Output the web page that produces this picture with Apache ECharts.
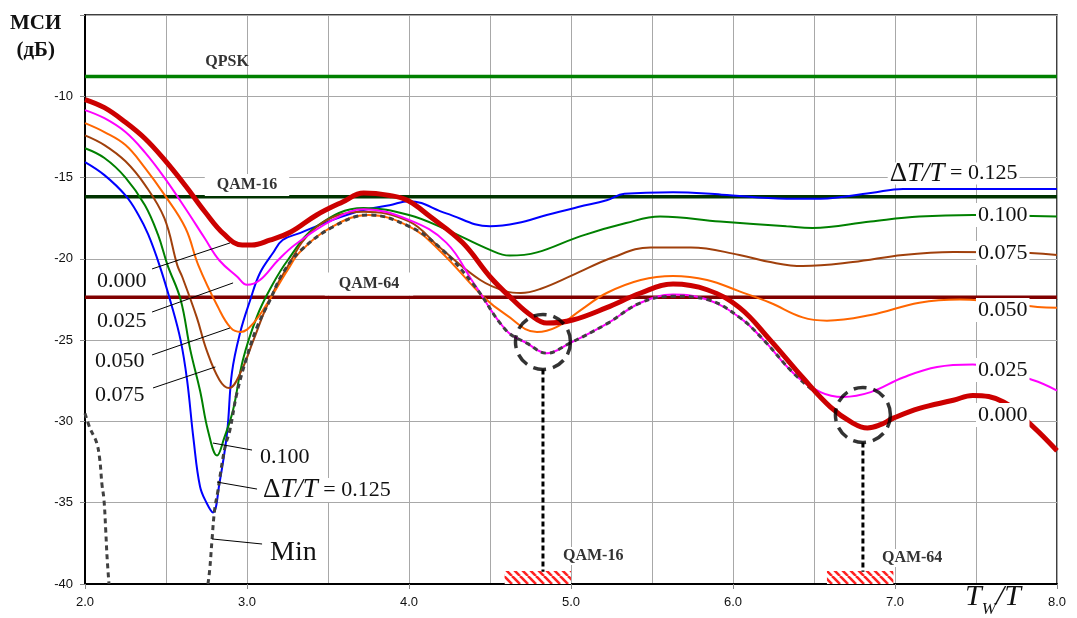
<!DOCTYPE html>
<html>
<head>
<meta charset="utf-8">
<script src="https://cdn.jsdelivr.net/npm/echarts@6/dist/echarts.min.js"></script>
<style>
  html, body { margin: 0; padding: 0; background: #fff; }
  #chart { width: 1077px; height: 618px; }
</style>
</head>
<body>
<div id="chart"></div>
<script>
// МСИ vs Tw/T for several ΔT/T values
var X_MIN = 2, X_MAX = 8, Y_MIN = -40, Y_MAX = -5;

var DT_0125 = [[2.0,-14.05],[2.12,-14.85],[2.25,-16.1],[2.33,-17.3],[2.39,-18.5],[2.46,-20.4],[2.53,-22.7],
  [2.59,-25.0],[2.63,-27.45],[2.67,-31.1],[2.71,-34.0],[2.75,-35.0],[2.79,-35.6],[2.83,-33.8],[2.877,-30.7],
  [2.907,-27.0],[2.957,-24.56],[3.02,-22.53],[3.08,-20.87],[3.16,-19.64],[3.22,-18.84],[3.33,-18.4],
  [3.53,-17.6],[3.72,-17.0],[3.88,-16.7],[4.0,-16.45],[4.23,-17.2],[4.5,-18.0],[4.67,-17.8],[4.85,-17.3],
  [5.05,-16.8],[5.22,-16.4],[5.33,-16.0],[5.63,-15.9],[5.93,-16.05],[6.33,-16.3],[6.54,-16.3],
  [6.85,-15.95],[7.05,-15.7],[7.5,-15.7],[8.0,-15.7]];

var DT_0100 = [[2.0,-13.2],[2.12,-13.8],[2.25,-15.0],[2.37,-16.7],[2.45,-18.5],[2.51,-20.4],[2.59,-22.5],
  [2.65,-25.6],[2.71,-28.1],[2.76,-30.6],[2.815,-32.1],[2.86,-31.0],[2.914,-29.3],[2.975,-26.2],
  [3.06,-23.58],[3.14,-21.9],[3.25,-20.1],[3.43,-18.0],[3.72,-16.87],[4.0,-17.3],[4.23,-18.2],
  [4.5,-19.45],[4.62,-19.8],[4.79,-19.6],[5.06,-18.6],[5.34,-17.8],[5.55,-17.4],[5.92,-17.7],
  [6.33,-18.0],[6.49,-18.1],[6.85,-17.7],[7.15,-17.4],[7.48,-17.3],[8.0,-17.4]];

var DT_0075 = [[2.0,-12.4],[2.12,-13.0],[2.25,-14.0],[2.37,-15.45],[2.49,-17.5],[2.57,-20.4],[2.6,-21.1],
  [2.69,-23.6],[2.75,-25.6],[2.83,-27.45],[2.89,-27.95],[2.96,-27.0],[3.04,-25.0],[3.12,-22.96],
  [3.22,-21.0],[3.43,-18.04],[3.72,-17.1],[4.0,-17.7],[4.19,-19.3],[4.44,-21.3],[4.6,-22.0],
  [4.69,-22.1],[4.81,-21.85],[5.01,-21.0],[5.26,-19.9],[5.49,-19.3],[5.74,-19.3],[6.04,-19.76],
  [6.23,-20.2],[6.43,-20.44],[6.74,-20.2],[7.05,-19.76],[7.36,-19.58],[7.7,-19.6],[8.0,-19.76]];

var DT_0050 = [[2.0,-11.65],[2.12,-12.2],[2.25,-13.0],[2.37,-14.4],[2.49,-16.05],[2.62,-18.1],[2.7,-20.4],
  [2.82,-22.95],[2.9,-24.25],[2.96,-24.5],[3.04,-23.95],[3.14,-22.5],[3.25,-20.7],[3.33,-19.55],
  [3.53,-18.0],[3.75,-17.3],[4.0,-18.0],[4.19,-19.5],[4.46,-22.35],[4.6,-23.45],[4.79,-24.5],
  [4.91,-24.2],[5.06,-23.15],[5.22,-22.1],[5.43,-21.3],[5.63,-21.05],[5.84,-21.3],[6.04,-22.0],
  [6.23,-22.7],[6.43,-23.6],[6.58,-23.8],[6.85,-23.45],[7.15,-22.7],[7.4,-22.5],[7.88,-22.96],[8.0,-23.0]];

var DT_0025 = [[2.0,-10.85],[2.12,-11.35],[2.25,-12.2],[2.37,-13.45],[2.49,-15.0],[2.62,-16.9],[2.74,-18.75],
  [2.83,-20.1],[2.94,-21.1],[3.0,-21.6],[3.08,-21.3],[3.19,-20.1],[3.3,-19.1],[3.53,-17.6],[3.72,-16.95],
  [4.0,-17.6],[4.23,-19.0],[4.4,-21.5],[4.6,-24.4],[4.73,-25.2],[4.85,-25.8],[4.99,-25.2],[5.22,-24.0],
  [5.43,-22.7],[5.63,-22.2],[5.84,-22.5],[6.04,-23.6],[6.19,-25.0],[6.37,-27.0],[6.54,-28.2],
  [6.68,-28.5],[6.85,-28.2],[7.05,-27.3],[7.26,-26.65],[7.48,-26.5],[7.85,-27.45],[8.0,-28.1]];

var DT_0000 = [[2.0,-10.2],[2.12,-10.7],[2.25,-11.6],[2.37,-12.6],[2.49,-13.9],[2.62,-15.5],[2.74,-17.1],
  [2.86,-18.5],[2.97,-19.15],[3.03,-19.15],[3.14,-18.85],[3.27,-18.35],[3.43,-17.3],[3.59,-16.5],
  [3.72,-15.95],[3.88,-16.1],[3.99,-16.4],[4.13,-17.4],[4.33,-19.0],[4.5,-21.1],[4.64,-22.5],
  [4.75,-23.45],[4.85,-23.95],[5.01,-23.76],[5.22,-23.0],[5.43,-22.1],[5.63,-21.55],[5.84,-21.9],
  [6.04,-23.0],[6.23,-25.0],[6.43,-27.3],[6.6,-29.1],[6.74,-30.1],[6.83,-30.4],[6.91,-30.2],
  [6.99,-29.8],[7.15,-29.2],[7.36,-28.7],[7.48,-28.4],[7.67,-28.8],[7.85,-30.3],[8.0,-31.8]];

// envelope of the minimum (goes below -40 between the two pieces)
var MIN_CURVE = [[2.0,-29.5],[2.03,-30.4],[2.07,-31.25],[2.09,-32.25],[2.105,-33.9],[2.117,-34.8],
  [2.128,-36.7],[2.136,-38.3],[2.148,-40], null,
  [2.759,-40],[2.77,-39.1],[2.784,-37.3],[2.8,-35.45],[2.82,-34.3],[2.833,-33.4],[2.864,-31.6],
  [2.895,-30.5],[2.938,-28.25],[3.0,-26.0],[3.062,-24.2],[3.142,-22.53],[3.222,-20.87],[3.33,-19.5],
  [3.53,-18.04],[3.75,-17.3],[4.0,-18.0],[4.19,-19.3],[4.4,-21.6],[4.6,-24.4],[4.73,-25.2],
  [4.85,-25.8],[4.99,-25.2],[5.22,-24.0],[5.43,-22.7],[5.63,-22.3],[5.84,-22.5],[6.04,-23.6],
  [6.19,-25.0],[6.37,-27.0],[6.54,-28.5],[6.6,-29.1],[6.74,-30.1],[6.83,-30.4],[6.91,-30.2],
  [6.99,-29.8],[7.15,-29.2],[7.36,-28.7],[7.48,-28.4],[7.67,-28.8],[7.85,-30.3],[8.0,-31.8]];

// modulation thresholds
var THRESH_NAMES = ['QPSK', 'QAM-16', 'QAM-64'];
var THRESH_VALUES = [-8.79, -16.18, -22.36];

// marked optimum points and their operating ranges
var OPT_POINTS = [[4.827, -25.11], [6.802, -29.6]];
var OPT_RANGES = [[4.59, 5.0], [6.58, 6.99]];
var OPT_NAMES = ['QAM-16', 'QAM-64'];

var CURVE_COLORS = ['#0000ff', '#008000', '#a0400c', '#ff6600', '#ff00ff', '#cc0000'];
var THRESH_COLORS = ['#008000', '#003300', '#800000'];

function hatch() {
  var c = document.createElement('canvas');
  c.width = 8; c.height = 8;
  var ctx = c.getContext('2d');
  ctx.fillStyle = '#fff';
  ctx.fillRect(0, 0, 8, 8);
  ctx.strokeStyle = '#ff2020';
  ctx.lineWidth = 2.6;
  [-8, 0, 8].forEach(function (k) {
    ctx.beginPath(); ctx.moveTo(k, 0); ctx.lineTo(k + 8, 8); ctx.stroke();
  });
  return c;
}

function curve(data, color, width, extra) {
  var s = {
    type: 'line', data: data, symbol: 'none', smooth: 0.4,
    connectNulls: false, silent: true, animation: false,
    lineStyle: { color: color, width: width }
  };
  if (extra) for (var k in extra) s[k] = extra[k];
  return s;
}

var series = [];
THRESH_VALUES.forEach(function (v, i) {
  series.push(curve([[X_MIN, v], [X_MAX, v]], THRESH_COLORS[i], 3.5, { smooth: false }));
});
[DT_0125, DT_0100, DT_0075, DT_0050, DT_0025].forEach(function (d, i) {
  series.push(curve(d, CURVE_COLORS[i], 2));
});
series.push(curve(MIN_CURVE, '#404040', 3, {
  lineStyle: { color: '#404040', width: 3, type: [5, 4] },
  markArea: {
    silent: true,
    itemStyle: { color: { image: hatch(), repeat: 'repeat' } },
    data: OPT_RANGES.map(function (r) {
      return [{ coord: [r[0], -40] }, { coord: [r[1], -39.2] }];
    })
  }
}));
series.push(curve(DT_0000, CURVE_COLORS[5], 5));

// dashed drop lines from the marked optimum to the hatched range
OPT_POINTS.forEach(function (p) {
  series.push(curve([[p[0], p[1] - 1.7], [p[0], -39.25]], '#000', 3, {
    smooth: false, lineStyle: { color: '#000', width: 3, type: [5, 3] }
  }));
});
series.push({
  type: 'scatter', data: OPT_POINTS, symbol: 'circle', symbolSize: 55, silent: true, animation: false,
  itemStyle: { color: 'rgba(0,0,0,0)', borderColor: '#000', borderWidth: 3.5, borderType: [13, 7] },
  z: 5
});

// leader lines from curve labels to curves
var LEADERS = [
  [2.414, -20.62, 2.895, -19.02],
  [2.414, -23.27, 2.914, -21.48],
  [2.414, -25.91, 2.895, -24.25],
  [2.420, -27.94, 2.805, -26.65],
  [3.031, -31.76, 2.790, -31.33],
  [3.062, -34.16, 2.815, -33.73],
  [3.093, -37.54, 2.784, -37.23]
];
LEADERS.forEach(function (l) {
  series.push(curve([[l[0], l[1]], [l[2], l[3]]], '#000', 1, { smooth: false }));
});

var option = {
  backgroundColor: '#fff',
  animation: false,
  grid: { left: 85, right: 20, top: 15, bottom: 34, show: true, borderColor: '#000', borderWidth: 1.5 },
  xAxis: {
    type: 'value', min: X_MIN, max: X_MAX, interval: 1,
    axisLine: { lineStyle: { color: '#000', width: 2 } },
    axisTick: { show: true, length: 5, inside: false, lineStyle: { color: '#888' } },
    axisLabel: {
      margin: 12, color: '#111', fontFamily: 'Liberation Sans', fontSize: 13,
      formatter: function (v) { return v.toFixed(1); }
    },
    splitLine: { show: true, lineStyle: { color: '#a8a8a8', width: 1 } },
    minorTick: { show: false, splitNumber: 2 },
    minorSplitLine: { show: true, lineStyle: { color: '#a8a8a8', width: 1 } }
  },
  yAxis: {
    type: 'value', min: Y_MIN, max: Y_MAX, interval: 5,
    axisLine: { show: true, lineStyle: { color: '#000', width: 2 } },
    axisTick: { show: true, length: 5, lineStyle: { color: '#888' } },
    axisLabel: {
      margin: 12, color: '#111', fontFamily: 'Liberation Sans', fontSize: 13,
      formatter: function (v) { return v === Y_MAX ? '' : String(v); }
    },
    splitLine: { show: true, lineStyle: { color: '#a8a8a8', width: 1 } }
  },
  series: series
};

var chart = echarts.init(document.getElementById('chart'), null, { renderer: 'canvas' });
chart.setOption(option);

function at(x, y) { return chart.convertToPixel({ gridIndex: 0 }, [x, y]); }

var SERIF = 'Liberation Serif';
function label(x, y, text, font, opts) {
  var p = at(x, y);
  opts = opts || {};
  return {
    type: 'text', x: p[0], y: p[1], z: 100, silent: true,
    style: {
      text: text, font: font, fill: opts.fill || '#111',
      align: opts.align || 'left', verticalAlign: 'middle',
      textAlign: opts.align || 'left', textVerticalAlign: 'middle',
      backgroundColor: opts.bg === false ? null : '#fff',
      padding: opts.padding || [1, 2],
      rich: opts.rich
    }
  };
}

var dtRich = {
  d: { fontFamily: SERIF, fontSize: 27, fill: '#111', lineHeight: 22 },
  i: { fontFamily: SERIF, fontSize: 27, fontStyle: 'italic', fill: '#111', lineHeight: 22 },
  n: { fontFamily: SERIF, fontSize: 22, fill: '#111', lineHeight: 22 }
};
var dtText = '{d|Δ}{i|T/T}{n| = 0.125}';
var NUM = '22px ' + SERIF;
var BOLD = 'bold 16px ' + SERIF;

// curve labels (left and right), threshold and range labels
var LEFT_LABELS = [['0.000', 2.062, -21.36], ['0.025', 2.062, -23.82], ['0.050', 2.049, -26.28],
  ['0.075', 2.049, -28.37], ['0.100', 3.068, -32.19]];
var RIGHT_LABELS = [['0.100', 7.5, -17.3], ['0.075', 7.5, -19.64], ['0.050', 7.5, -23.15],
  ['0.025', 7.5, -26.84], ['0.000', 7.5, -29.6]];

var g = [];
LEFT_LABELS.concat(RIGHT_LABELS).forEach(function (l) { g.push(label(l[1], l[2], l[0], NUM)); });
g.push(label(3.086, -34.22, dtText, NUM, { rich: dtRich }));
g.push(label(6.955, -14.75, dtText, NUM, { rich: dtRich, padding: [0, 2] }));
g.push(label(3.13, -38.09, 'Min', '28px ' + SERIF));

g.push(label(2.877, -7.89, THRESH_NAMES[0], BOLD, { align: 'center', fill: '#333', bg: false }));
g.push(label(3.0, -15.46, THRESH_NAMES[1], BOLD, { align: 'center', fill: '#333', padding: [3, 12, 3, 12] }));
g.push(label(3.753, -21.55, THRESH_NAMES[2], BOLD, { align: 'center', fill: '#333', padding: [3, 14, 4, 14] }));
g.push(label(4.938, -38.28, OPT_NAMES[0], BOLD, { fill: '#333' }));
g.push(label(6.907, -38.4, OPT_NAMES[1], BOLD, { fill: '#333' }));

// axis titles
g.push({
  type: 'text', left: 10, top: 10, z: 100, silent: true,
  style: { text: 'МСИ\n(дБ)', font: 'bold 21px ' + SERIF, fill: '#111', align: 'center', textAlign: 'center', lineHeight: 27 }
});
g.push({
  type: 'text', x: 965, y: 612, z: 100, silent: true,
  style: {
    text: '{t|T}{s|W}{t|/T}', align: 'left', verticalAlign: 'bottom', textAlign: 'left', textVerticalAlign: 'bottom',
    rich: {
      t: { fontFamily: SERIF, fontStyle: 'italic', fontSize: 30, fill: '#111', verticalAlign: 'bottom' },
      s: { fontFamily: SERIF, fontStyle: 'italic', fontSize: 17, fill: '#111', verticalAlign: 'bottom', padding: [0, 0, -6, 0] }
    }
  }
});

chart.setOption({ graphic: g });
</script>
</body>
</html>
